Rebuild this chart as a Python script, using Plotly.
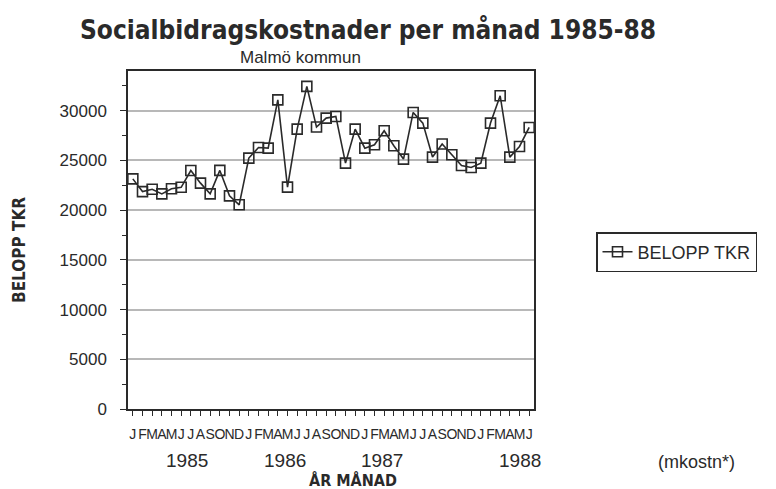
import plotly.graph_objects as go

# Monthly social assistance costs, Malmö, Jan 1985 – Jun 1988 (TKR)
months = ["J", "F", "M", "A", "M", "J", "J", "A", "S", "O", "N", "D"] * 3 + ["J", "F", "M", "A", "M", "J"]
belopp = [
    23150, 21870, 22100, 21640, 22150, 22300, 23990, 22720, 21640, 24000, 21440, 20540,
    25240, 26300, 26240, 31100, 22320, 28150, 32450, 28360, 29260, 29430, 24730, 28150,
    26240, 26580, 27990, 26480, 25140, 29830, 28760, 25340, 26650, 25570, 24500, 24290,
    24730, 28760, 31510, 25340, 26410, 28320,
]
years = ["1985", "1986", "1987", "1988"]
year_pos = [5.6, 15.7, 25.8, 40.0]
y_ticks = [0, 5000, 10000, 15000, 20000, 25000, 30000]

ink = "#2a2a2a"
font_thin = "Liberation Sans Narrow, Liberation Sans, Arial, sans-serif"
font_bold = "DejaVu Sans Condensed, DejaVu Sans, Verdana, sans-serif"

W, H = 776, 489
L, R, T, B = 128, 242, 71, 80
PW, PH = W - L - R, H - T - B


def px(x):
    """Horizontal pixel position -> paper fraction of the plot area."""
    return (x - L) / PW


def py(y):
    """Vertical pixel position -> paper fraction of the plot area."""
    return (H - B - y) / PH


x_idx = list(range(len(belopp)))

fig = go.Figure()
fig.add_trace(go.Scatter(
    x=x_idx, y=belopp, mode="lines+markers", name="BELOPP TKR",
    line=dict(color=ink, width=1.6),
    marker=dict(symbol="square-open", size=10, color=ink, line=dict(width=1.6, color=ink)),
))

fig.update_layout(
    width=W, height=H,
    margin=dict(l=L, r=R, t=T, b=B),
    paper_bgcolor="white", plot_bgcolor="white",
    showlegend=True,
    legend=dict(
        x=px(596), y=py(232), xanchor="left", yanchor="top",
        bordercolor=ink, borderwidth=1.5,
        font=dict(family=font_thin, size=18, color=ink),
        itemwidth=30,
    ),
    xaxis=dict(
        range=[-0.5, len(belopp) - 0.5],
        tickmode="array", tickvals=x_idx, ticktext=months,
        tickfont=dict(family=font_thin, size=14, color=ink),
        ticks="outside", ticklen=5, tickcolor=ink, tickwidth=1,
        ticklabelstandoff=6,
        showline=True, linecolor=ink, linewidth=1.5, mirror=True,
        showgrid=False, zeroline=False, tickangle=0,
    ),
    yaxis=dict(
        range=[0, 34000],
        tickmode="array", tickvals=y_ticks, ticktext=[str(v) for v in y_ticks],
        tickfont=dict(family=font_thin, size=17, color=ink),
        ticks="outside", ticklen=6, tickcolor=ink, tickwidth=1,
        ticklabelstandoff=10,
        minor=dict(dtick=2500, ticks="outside", ticklen=4, tickcolor=ink, showgrid=False),
        showline=True, linecolor=ink, linewidth=1.5, mirror=True,
        showgrid=True, gridcolor="#b8b8b8", gridwidth=1.5, zeroline=False,
    ),
)


def note(text, x, y, size, family, xref="paper", angle=0):
    return dict(text=text, x=x, y=y, xref=xref, yref="paper", showarrow=False,
                xanchor="center", yanchor="middle", textangle=angle,
                font=dict(family=family, size=size, color=ink))


annotations = [
    note("<b>Socialbidragskostnader per månad 1985-88</b>", px(368), py(30), 26, font_bold),
    note("Malmö kommun", px(300), py(57), 17, font_thin),
    note("<b>BELOPP TKR</b>", px(19), py(250), 17, font_bold, angle=-90),
    note("<b>ÅR MÅNAD</b>", px(353), py(480), 16, font_bold),
    note("(mkostn*)", px(696), py(462), 18, font_thin),
]
for yr, pos in zip(years, year_pos):
    annotations.append(note(yr, pos, py(460), 19, font_thin, xref="x"))

fig.update_layout(annotations=annotations)

fig.write_html("out.html")
